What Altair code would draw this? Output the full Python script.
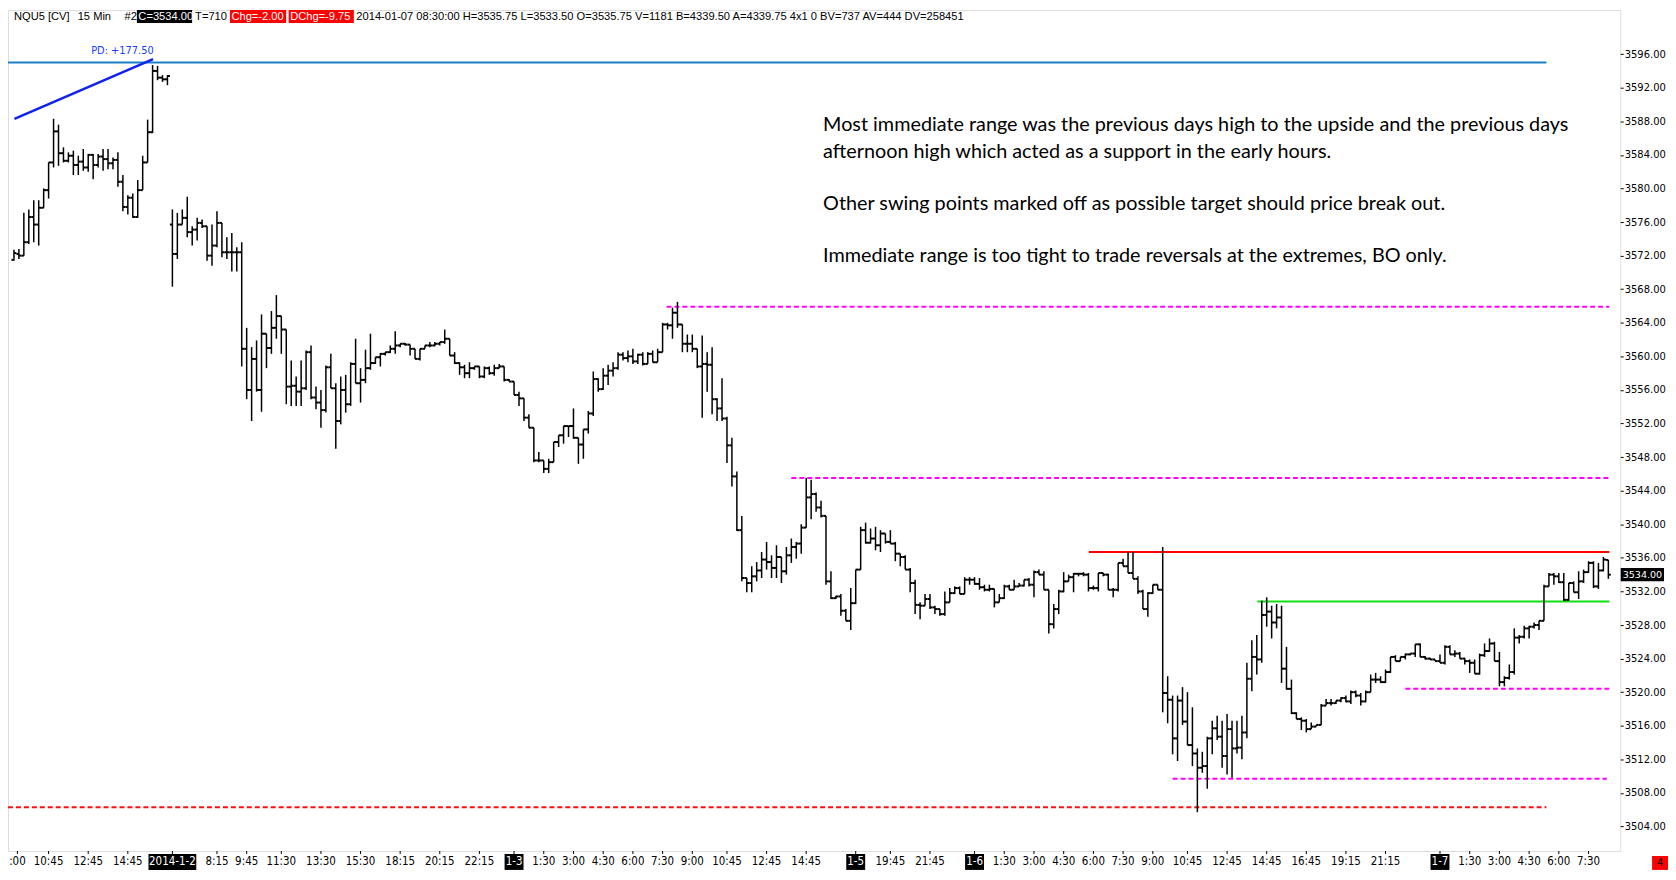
import altair as alt
import pandas as pd

# ---------------- data ----------------
opens = [
    3571.5, 3572.2, 3572.0, 3573.6, 3576.6, 3575.7, 3577.7, 3579.8, 3583.1, 3586.8,
    3584.2, 3583.3, 3583.9, 3582.8, 3583.2, 3582.5, 3584.0, 3582.8, 3583.8, 3583.5,
    3583.0, 3583.4, 3580.8, 3577.8, 3578.9, 3576.6, 3579.8, 3583.1, 3586.7, 3594.0,
    3593.2, 3593.0, 3575.7, 3572.2, 3575.7, 3576.5, 3574.8, 3575.1, 3575.9, 3575.5,
    3572.0, 3573.2, 3575.9, 3572.4, 3572.4, 3572.4, 3572.4, 3560.9, 3556.0, 3559.7,
    3556.0, 3562.7, 3561.0, 3563.4, 3564.8, 3563.2, 3556.4, 3556.5, 3555.8, 3556.2,
    3560.5, 3555.1, 3554.5, 3553.6, 3558.7, 3556.2, 3552.3, 3556.0, 3554.3, 3559.1,
    3556.8, 3557.2, 3558.6, 3559.2, 3559.9, 3560.3, 3560.5, 3560.9, 3561.3, 3561.5,
    3561.4, 3560.9, 3559.7, 3560.9, 3561.3, 3561.3, 3561.5, 3561.7, 3562.1, 3560.1,
    3559.2, 3558.7, 3558.0, 3558.6, 3558.8, 3557.6, 3558.6, 3558.0, 3558.6, 3558.8,
    3557.2, 3557.0, 3555.4, 3555.0, 3552.7, 3551.5, 3547.6, 3547.6, 3546.6, 3547.4,
    3549.8, 3550.6, 3551.7, 3551.7, 3550.3, 3549.5, 3551.3, 3553.2, 3557.3, 3556.1,
    3557.7, 3558.3, 3558.6, 3560.2, 3559.8, 3560.0, 3559.4, 3560.2, 3559.1, 3560.3,
    3559.3, 3560.5, 3563.8, 3563.7, 3565.2, 3563.8, 3561.5, 3561.5, 3560.9, 3558.8,
    3559.1, 3559.0, 3554.9, 3553.8, 3552.6, 3549.4, 3545.7, 3539.3, 3533.6, 3533.0,
    3533.8, 3534.5, 3535.8, 3535.5, 3534.8, 3536.1, 3534.4, 3536.3, 3537.3, 3537.7,
    3539.6, 3543.2, 3543.6, 3542.0, 3541.0, 3533.2, 3531.2, 3531.4, 3529.7, 3528.5,
    3530.6, 3534.6, 3539.3, 3537.8, 3538.3, 3537.5, 3538.9, 3537.9, 3537.7, 3536.5,
    3536.1, 3534.6, 3533.0, 3530.4, 3530.3, 3531.1, 3530.1, 3529.9, 3529.3, 3530.7,
    3531.8, 3532.4, 3531.7, 3533.4, 3533.4, 3532.9, 3532.5, 3532.2, 3532.3, 3530.7,
    3531.2, 3532.6, 3532.2, 3532.6, 3532.7, 3533.4, 3532.8, 3534.3, 3534.0, 3532.2,
    3528.1, 3529.9, 3532.0, 3533.2, 3533.7, 3534.1, 3534.1, 3534.0, 3532.4, 3532.4,
    3534.2, 3534.0, 3532.2, 3532.2, 3535.4, 3535.0, 3534.2, 3533.5, 3532.0, 3529.9,
    3531.8, 3532.8, 3532.2, 3519.9, 3519.1, 3514.5, 3519.0, 3516.5, 3513.7, 3512.7,
    3511.0, 3511.2, 3514.5, 3515.7, 3514.7, 3512.4, 3515.6, 3513.3, 3513.4, 3515.2,
    3521.6, 3524.2, 3523.9, 3529.2, 3529.6, 3528.3, 3528.9, 3522.8, 3520.4, 3517.5,
    3516.8, 3516.6, 3515.6, 3515.9, 3516.1, 3518.4, 3518.7, 3518.7, 3519.0, 3519.3,
    3518.9, 3520.0, 3519.6, 3518.9, 3520.0, 3521.5, 3521.5, 3521.2, 3522.4, 3524.2,
    3523.7, 3524.2, 3524.5, 3524.6, 3525.7, 3524.2, 3524.0, 3523.9, 3523.7, 3523.5,
    3525.4, 3524.5, 3524.6, 3524.0, 3523.7, 3523.5, 3522.2, 3524.4, 3524.9, 3525.8,
    3523.7, 3521.2, 3521.7, 3522.4, 3526.5, 3526.6, 3527.6, 3527.8, 3528.0, 3528.5,
    3532.6, 3534.0, 3533.8, 3533.1, 3531.0, 3533.0, 3531.9, 3533.2, 3534.3, 3535.4,
    3532.6, 3534.5, 3535.75,
]
highs = [
    3572.7, 3572.8, 3577.1, 3577.5, 3578.6, 3578.6, 3580.0, 3583.1, 3588.3, 3587.6,
    3584.9, 3584.3, 3584.5, 3583.9, 3584.7, 3584.1, 3584.1, 3584.1, 3584.7, 3584.7,
    3583.7, 3584.3, 3581.6, 3579.2, 3579.4, 3581.0, 3583.9, 3588.2, 3594.7, 3594.6,
    3593.5, 3593.5, 3577.5, 3577.1, 3577.5, 3579.0, 3575.5, 3576.5, 3576.3, 3575.5,
    3575.7, 3577.3, 3575.9, 3574.2, 3574.7, 3573.0, 3573.6, 3563.4, 3561.1, 3561.9,
    3565.0, 3562.7, 3565.4, 3567.3, 3564.8, 3563.2, 3559.5, 3557.6, 3559.5, 3560.7,
    3561.3, 3556.4, 3556.0, 3558.9, 3560.3, 3556.8, 3557.6, 3557.8, 3559.3, 3562.1,
    3558.6, 3560.8, 3562.7, 3559.9, 3560.4, 3560.5, 3561.3, 3563.0, 3561.5, 3561.6,
    3561.4, 3560.9, 3560.9, 3561.3, 3561.7, 3561.7, 3561.7, 3563.2, 3562.1, 3560.5,
    3559.3, 3559.0, 3559.3, 3558.8, 3558.8, 3558.8, 3558.8, 3559.0, 3559.1, 3558.8,
    3557.3, 3557.0, 3555.8, 3555.0, 3553.1, 3551.5, 3548.6, 3547.6, 3547.8, 3549.8,
    3550.6, 3551.7, 3551.7, 3553.8, 3550.3, 3551.3, 3553.5, 3558.2, 3557.4, 3558.6,
    3559.0, 3559.3, 3560.5, 3560.5, 3560.7, 3560.9, 3560.3, 3560.5, 3560.5, 3560.7,
    3560.9, 3564.0, 3564.0, 3565.8, 3566.5, 3563.8, 3562.6, 3562.6, 3560.9, 3562.5,
    3560.5, 3561.1, 3555.0, 3557.4, 3552.8, 3550.3, 3546.3, 3541.0, 3533.6, 3535.0,
    3535.5, 3536.7, 3537.9, 3536.3, 3537.5, 3536.1, 3537.3, 3538.3, 3537.9, 3540.0,
    3545.5, 3545.3, 3543.8, 3542.8, 3541.0, 3534.4, 3531.5, 3531.7, 3529.9, 3532.4,
    3534.6, 3539.7, 3540.2, 3539.5, 3539.7, 3539.3, 3538.9, 3539.3, 3537.9, 3536.5,
    3536.3, 3534.8, 3533.4, 3530.7, 3531.7, 3531.7, 3530.3, 3529.9, 3532.0, 3532.4,
    3532.6, 3532.6, 3533.7, 3533.7, 3533.7, 3533.6, 3532.8, 3532.8, 3532.3, 3531.7,
    3532.8, 3532.8, 3533.4, 3533.0, 3533.4, 3533.6, 3534.5, 3534.6, 3534.4, 3532.2,
    3530.5, 3532.2, 3534.3, 3534.0, 3534.2, 3534.2, 3534.3, 3534.2, 3532.7, 3534.2,
    3534.2, 3534.1, 3532.4, 3535.4, 3535.9, 3536.7, 3536.7, 3533.8, 3532.2, 3531.9,
    3532.8, 3532.8, 3537.3, 3521.9, 3519.6, 3519.6, 3520.6, 3520.0, 3518.2, 3513.3,
    3512.9, 3514.7, 3516.6, 3517.2, 3516.6, 3517.4, 3516.6, 3516.6, 3517.2, 3523.5,
    3526.2, 3526.8, 3530.9, 3531.3, 3530.3, 3530.5, 3530.3, 3525.4, 3521.5, 3517.6,
    3517.0, 3516.8, 3516.4, 3516.1, 3518.6, 3519.2, 3519.2, 3519.0, 3519.4, 3519.6,
    3520.2, 3520.2, 3519.9, 3520.2, 3522.1, 3522.3, 3521.9, 3522.7, 3524.2, 3524.4,
    3524.2, 3524.6, 3524.6, 3525.7, 3525.8, 3524.3, 3524.1, 3523.9, 3524.5, 3525.6,
    3525.6, 3525.0, 3524.8, 3524.1, 3523.9, 3523.9, 3524.6, 3525.8, 3526.4, 3526.0,
    3524.8, 3521.9, 3523.3, 3527.6, 3526.8, 3527.9, 3527.9, 3528.3, 3528.5, 3532.8,
    3534.2, 3534.2, 3534.2, 3534.2, 3533.0, 3533.2, 3534.4, 3534.6, 3535.6, 3535.6,
    3535.4, 3536.1, 3535.75,
]
lows = [
    3571.4, 3571.6, 3572.0, 3573.4, 3573.6, 3573.2, 3577.7, 3578.8, 3582.5, 3582.7,
    3583.1, 3583.1, 3581.6, 3581.6, 3582.1, 3582.0, 3581.1, 3582.5, 3582.1, 3582.3,
    3582.3, 3580.2, 3577.3, 3576.9, 3576.5, 3576.5, 3579.8, 3583.1, 3586.6, 3592.9,
    3592.7, 3592.3, 3568.3, 3571.6, 3575.7, 3574.2, 3573.2, 3573.8, 3575.3, 3571.4,
    3570.8, 3573.0, 3571.8, 3571.6, 3570.1, 3570.1, 3558.8, 3554.9, 3552.3, 3555.8,
    3553.4, 3558.6, 3560.3, 3562.1, 3560.3, 3554.3, 3554.1, 3554.1, 3554.1, 3556.0,
    3554.9, 3553.7, 3551.5, 3553.3, 3556.2, 3549.0, 3551.9, 3553.3, 3554.1, 3556.8,
    3554.5, 3556.8, 3558.4, 3559.1, 3558.8, 3560.1, 3560.4, 3560.3, 3561.1, 3561.3,
    3560.1, 3559.7, 3559.5, 3560.9, 3561.1, 3561.2, 3561.3, 3561.5, 3560.1, 3559.1,
    3557.8, 3557.4, 3557.4, 3558.4, 3557.4, 3557.4, 3557.8, 3557.7, 3558.6, 3557.0,
    3557.0, 3555.4, 3554.1, 3552.3, 3551.5, 3547.4, 3547.4, 3546.1, 3546.1, 3547.4,
    3549.2, 3549.6, 3550.4, 3550.2, 3547.2, 3547.8, 3550.8, 3552.9, 3555.8, 3556.0,
    3556.6, 3557.6, 3558.4, 3559.5, 3559.3, 3559.1, 3559.1, 3558.9, 3559.1, 3559.3,
    3559.3, 3560.5, 3563.2, 3562.1, 3563.4, 3560.5, 3560.5, 3560.5, 3558.6, 3552.7,
    3555.8, 3553.1, 3552.3, 3552.3, 3547.3, 3544.5, 3539.2, 3533.2, 3531.9, 3531.9,
    3533.2, 3533.6, 3534.6, 3533.6, 3533.6, 3533.0, 3534.0, 3535.4, 3535.9, 3536.5,
    3539.6, 3540.6, 3541.5, 3540.8, 3532.8, 3531.1, 3531.1, 3529.1, 3528.5, 3527.4,
    3530.5, 3534.6, 3537.7, 3537.7, 3536.9, 3536.7, 3537.7, 3537.7, 3535.6, 3535.0,
    3534.6, 3531.9, 3529.3, 3528.7, 3530.3, 3529.9, 3529.3, 3529.1, 3529.1, 3530.7,
    3531.7, 3531.7, 3531.7, 3532.8, 3532.8, 3532.2, 3532.0, 3532.0, 3530.1, 3530.7,
    3531.1, 3532.2, 3532.2, 3532.6, 3532.6, 3532.6, 3531.3, 3534.0, 3532.2, 3527.0,
    3527.6, 3529.3, 3531.9, 3533.2, 3531.9, 3533.8, 3533.8, 3532.0, 3532.2, 3532.0,
    3533.8, 3532.2, 3531.3, 3532.0, 3535.0, 3534.2, 3533.5, 3531.7, 3529.9, 3529.0,
    3531.7, 3532.2, 3517.6, 3516.3, 3512.6, 3511.8, 3516.1, 3513.7, 3511.2, 3505.7,
    3510.4, 3508.5, 3512.6, 3514.3, 3511.0, 3510.2, 3509.8, 3512.7, 3512.0, 3514.5,
    3520.1, 3522.1, 3523.5, 3527.8, 3526.4, 3527.6, 3521.1, 3520.3, 3517.4, 3516.8,
    3515.5, 3515.2, 3515.6, 3515.9, 3516.1, 3518.4, 3518.4, 3518.6, 3518.8, 3518.8,
    3518.6, 3519.4, 3518.4, 3518.8, 3520.0, 3521.1, 3521.1, 3521.1, 3522.3, 3523.7,
    3523.7, 3523.9, 3524.4, 3524.2, 3524.2, 3523.9, 3523.9, 3523.7, 3523.5, 3523.3,
    3524.5, 3524.2, 3524.0, 3523.3, 3522.3, 3522.2, 3522.1, 3524.2, 3524.8, 3523.7,
    3520.7, 3520.7, 3521.5, 3522.1, 3525.8, 3526.4, 3526.4, 3527.6, 3527.4, 3528.5,
    3532.6, 3532.8, 3533.0, 3530.9, 3530.9, 3531.9, 3531.1, 3533.0, 3534.2, 3532.4,
    3532.3, 3534.4, 3533.5,
]
closes = [
    3572.3, 3572.0, 3573.6, 3576.6, 3575.7, 3577.7, 3579.8, 3583.1, 3586.8, 3584.2,
    3583.3, 3583.9, 3582.8, 3583.2, 3582.5, 3584.0, 3582.8, 3583.8, 3583.5, 3583.0,
    3583.4, 3580.8, 3577.8, 3578.9, 3576.6, 3579.8, 3583.1, 3586.7, 3594.0, 3593.2,
    3593.0, 3593.4, 3572.2, 3575.7, 3576.5, 3574.8, 3575.1, 3575.9, 3575.5, 3572.0,
    3573.2, 3575.9, 3572.4, 3572.4, 3572.4, 3572.4, 3560.9, 3556.0, 3559.7, 3556.0,
    3562.7, 3561.0, 3563.4, 3564.8, 3563.2, 3556.4, 3556.5, 3555.8, 3556.2, 3560.5,
    3555.1, 3554.5, 3553.6, 3558.7, 3556.2, 3552.3, 3556.0, 3554.3, 3559.1, 3556.8,
    3557.2, 3558.6, 3559.2, 3559.9, 3560.3, 3560.5, 3560.9, 3561.3, 3561.5, 3561.4,
    3560.9, 3559.7, 3560.9, 3561.3, 3561.3, 3561.5, 3561.7, 3562.1, 3560.1, 3559.2,
    3558.7, 3558.0, 3558.6, 3558.8, 3557.6, 3558.6, 3558.0, 3558.6, 3558.8, 3557.2,
    3557.0, 3555.4, 3555.0, 3552.7, 3551.5, 3547.6, 3547.6, 3546.6, 3547.4, 3549.8,
    3550.6, 3551.7, 3551.7, 3550.3, 3549.5, 3551.3, 3553.2, 3557.3, 3556.1, 3557.7,
    3558.3, 3558.6, 3560.2, 3559.8, 3560.0, 3559.4, 3560.2, 3559.1, 3560.3, 3559.3,
    3560.5, 3563.8, 3563.7, 3565.2, 3563.8, 3561.5, 3561.5, 3560.9, 3558.8, 3559.1,
    3559.0, 3554.9, 3553.8, 3552.6, 3549.4, 3545.7, 3539.3, 3533.6, 3533.0, 3533.8,
    3534.5, 3535.8, 3535.5, 3534.8, 3536.1, 3534.4, 3536.3, 3537.3, 3537.7, 3539.6,
    3543.2, 3543.6, 3542.0, 3541.0, 3533.2, 3531.2, 3531.4, 3529.7, 3528.5, 3530.6,
    3534.6, 3539.3, 3537.8, 3538.3, 3537.5, 3538.9, 3537.9, 3537.7, 3536.5, 3536.1,
    3534.6, 3533.0, 3530.4, 3530.3, 3531.1, 3530.1, 3529.9, 3529.3, 3530.7, 3531.8,
    3532.4, 3531.7, 3533.4, 3533.4, 3532.9, 3532.5, 3532.2, 3532.3, 3530.7, 3531.2,
    3532.6, 3532.2, 3532.6, 3532.7, 3533.4, 3532.8, 3534.3, 3534.0, 3532.2, 3528.1,
    3529.9, 3532.0, 3533.2, 3533.7, 3534.1, 3534.1, 3534.0, 3532.4, 3532.4, 3534.2,
    3534.0, 3532.2, 3532.2, 3535.4, 3535.0, 3534.2, 3533.5, 3532.0, 3529.9, 3531.8,
    3532.8, 3532.2, 3519.9, 3519.1, 3514.5, 3519.0, 3516.5, 3513.7, 3512.7, 3511.0,
    3511.2, 3514.5, 3515.7, 3514.7, 3512.4, 3515.6, 3513.3, 3513.4, 3515.2, 3521.6,
    3524.2, 3523.9, 3529.2, 3529.6, 3528.3, 3528.9, 3522.8, 3520.4, 3517.5, 3516.8,
    3516.6, 3515.6, 3515.9, 3516.1, 3518.4, 3518.7, 3518.7, 3519.0, 3519.3, 3518.9,
    3520.0, 3519.6, 3518.9, 3520.0, 3521.5, 3521.5, 3521.2, 3522.4, 3524.2, 3523.7,
    3524.2, 3524.5, 3524.6, 3525.7, 3524.2, 3524.0, 3523.9, 3523.7, 3523.5, 3525.4,
    3524.5, 3524.6, 3524.0, 3523.7, 3523.5, 3522.2, 3524.4, 3524.9, 3525.8, 3523.7,
    3521.2, 3521.7, 3522.4, 3526.5, 3526.6, 3527.6, 3527.8, 3528.0, 3528.5, 3532.6,
    3534.0, 3533.8, 3533.1, 3531.0, 3533.0, 3531.9, 3533.2, 3534.3, 3535.4, 3532.6,
    3534.5, 3535.8, 3534.0,
]

# time-axis labels (bar index -> text); the first one is cut at the left edge in the original
time_ticks = [0.7, 7, 15, 23, 41, 47, 54, 62, 70, 78, 86, 94,
              107, 113, 119, 125, 131, 137, 144, 152, 160, 177, 185,
              200, 206, 212, 218, 224, 230, 237, 245, 253, 261, 269, 277,
              294, 300, 306, 312, 318]
time_labels = [":00", "10:45", "12:45", "14:45", "8:15", "9:45", "11:30", "13:30", "15:30", "18:15", "20:15", "22:15",
               "1:30", "3:00", "4:30", "6:00", "7:30", "9:00", "10:45", "12:45", "14:45", "19:45", "21:45",
               "1:30", "3:00", "4:30", "6:00", "7:30", "9:00", "10:45", "12:45", "14:45", "16:45", "19:15", "21:15",
               "1:30", "3:00", "4:30", "6:00", "7:30"]
session_ticks = [32, 101, 170, 194, 288]
session_labels = ["2014-1-2", "1-3", "1-5", "1-6", "1-7"]

price_ticks = [3504, 3508, 3512, 3516, 3520, 3524, 3528, 3532, 3536, 3540, 3544, 3548,
               3552, 3556, 3560, 3564, 3568, 3572, 3576, 3580, 3584, 3588, 3592, 3596]

# drawn levels (price, from bar, to bar)
prev_high_level = [3595.0]
prev_high_from = [-1.2]
prev_high_to = [309.5]
low_level = [3506.3]
low_from = [-1.2]
low_to = [309.5]
swing_levels = [3565.9, 3545.5, 3520.4, 3509.7]
swing_from = [131.8, 157.0, 281.0, 234.0]
swing_to = [322.2, 322.2, 322.2, 321.7]
range_high = [3536.7]
range_high_from = [217.1]
range_low = [3530.8]
range_low_from = [251.1]
range_to = [322.2]
pd_x = [0.1]
pd_x2 = [28.1]
pd_y = [3588.3]
pd_y2 = [3595.4]
pd_text = "PD: +177.50"
last_price = [3534.00]

header_plain = ["NQU5 [CV]", "15 Min", "#2", "T=710",
                "2014-01-07 08:30:00 H=3535.75 L=3533.50 O=3535.75 V=1181 B=4339.50 A=4339.75 4x1 0 BV=737 AV=444 DV=258451"]
header_boxed = ["C=3534.00", "Chg=-2.00", "DChg=-9.75"]

note_paragraphs = [
    "Most immediate range was the previous days high to the upside and the previous days\n"
    "afternoon high which acted as a support in the early hours.",
    "Other swing points marked off as possible target should price break out.",
    "Immediate range is too tight to trade reversals at the extremes, BO only.",
]

# ---------------- layout / style ----------------
W, H = 1620, 845
NARROW = "Liberation Sans Narrow, Arial Narrow, DejaVu Sans Condensed, sans-serif"
SANS = "Liberation Sans, Arial, sans-serif"
AXF = "DejaVu Sans, Verdana, sans-serif"

xs = alt.Scale(domain=[-1.2, 324.4], nice=False, zero=False)
ys = alt.Scale(domain=[3501.08, 3601.25], nice=False, zero=False)
yax = alt.Axis(orient="right", values=price_ticks, format=".2f", title=None, grid=False,
               domain=False, tickSize=3, tickColor="black", labelColor="black",
               labelFont=AXF, labelFontSize=10, labelPadding=1, labelOverlap=False)


def X(f):
    return alt.X(f, type="quantitative", scale=xs, axis=None)


def Y(f):
    return alt.Y(f, type="quantitative", scale=ys, axis=yax)


df = pd.DataFrame({"i": list(range(len(closes))), "o": opens, "h": highs, "l": lows, "c": closes})
ohlc = alt.Chart(df)

hl = ohlc.mark_rule(color="black", strokeWidth=1.5).encode(x=X("i"), y=Y("l"), y2="h")
op = ohlc.transform_calculate(xl="datum.i - 0.5").mark_rule(color="black", strokeWidth=2).encode(
    x=X("xl"), x2="i", y=Y("o"))
cl = ohlc.transform_calculate(xr="datum.i + 0.5").mark_rule(color="black", strokeWidth=2).encode(
    x=X("i"), x2="xr", y=Y("c"))


def hline(levels, starts, ends, color, dash=None, width=2):
    d = pd.DataFrame({"p": levels, "a": starts, "b": ends})
    kw = dict(color=color, strokeWidth=width)
    if dash:
        kw["strokeDash"] = dash
    return alt.Chart(d).mark_rule(**kw).encode(x=X("a"), x2="b", y=Y("p"))


lines = [
    hline(prev_high_level, prev_high_from, prev_high_to, "#1a80c4"),
    hline(low_level, low_from, low_to, "#ff1010", [5, 3]),
    hline(swing_levels, swing_from, swing_to, "#ff00ff", [5, 3]),
    hline(range_high, range_high_from, range_to, "#ff0000"),
    hline(range_low, range_low_from, range_to, "#10e010"),
]
diag = alt.Chart(pd.DataFrame({"x": pd_x, "x2": pd_x2, "y": pd_y, "y2": pd_y2})).mark_rule(
    color="#1020f0", strokeWidth=2.5).encode(x=X("x"), x2="x2", y=Y("y"), y2="y2")


def text_at(s, x, y, size=11, color="black", font=SANS, align="left", baseline="middle", **kw):
    return alt.Chart(pd.DataFrame({"t": [s]})).mark_text(
        align=align, baseline=baseline, font=font, fontSize=size, color=color, **kw
    ).encode(text="t:N", x=alt.value(x), y=alt.value(y))


def box(x0, x1, y0, y1, color):
    return alt.Chart(pd.DataFrame({"t": [0]})).mark_rect(color=color).encode(
        x=alt.value(x0), x2=alt.value(x1), y=alt.value(y0), y2=alt.value(y1))


pd_label = text_at(pd_text, 115, 41, size=11, color="#2040ff", font=NARROW, align="center")

# header
plain_x = [6, 70, 117, 188, 350]
header = [text_at(t, x, 6.5, size=11.2) for t, x in zip(header_plain, plain_x)]
boxed_spans = [(129.5, 185), (223, 279.5), (282, 347.5)]
boxed_cols = ["black", "#ff0000", "#ff0000"]
for t, (a, b), col in zip(header_boxed, boxed_spans, boxed_cols):
    header.append(box(a, b, 0, 13, col))
    header.append(text_at(t, a + 1.5, 6.5, size=11.2, color="white"))

# notes: paragraphs separated by one empty line
LH = 26.3
note_y = [122, 122 + 3 * LH, 122 + 5 * LH]
notes = [
    text_at(t, 819, y, size=19.9, font="Lato", baseline="alphabetic", lineBreak="\n", lineHeight=LH)
    for t, y in zip(note_paragraphs, note_y)
]

# x-axis labels
tdf = pd.DataFrame({"i": time_ticks, "t": time_labels})
sdf = pd.DataFrame({"i": session_ticks, "t": session_labels})
alltick = pd.DataFrame({"i": time_ticks + session_ticks})
xticks = alt.Chart(alltick).mark_rule(color="black").encode(x=X("i"), y=alt.value(845), y2=alt.value(848))
tlab = alt.Chart(tdf).mark_text(font=NARROW, fontSize=11.5, color="black", baseline="middle").encode(
    x=X("i"), y=alt.value(856), text="t:N")
sbox_w = alt.Chart(sdf).transform_filter("length(datum.t) > 4").mark_rect(
    color="black", xOffset=-24, x2Offset=24).encode(x=X("i"), x2="i", y=alt.value(848), y2=alt.value(864))
sbox_n = alt.Chart(sdf).transform_filter("length(datum.t) <= 4").mark_rect(
    color="black", xOffset=-9.5, x2Offset=9.5).encode(x=X("i"), x2="i", y=alt.value(848), y2=alt.value(864))
slab = alt.Chart(sdf).mark_text(font=NARROW, fontSize=11.5, color="white", baseline="middle").encode(
    x=X("i"), y=alt.value(856), text="t:N")

# last price marker on the price axis
lp = alt.Chart(pd.DataFrame({"p": last_price}))
lp_box = lp.transform_calculate(top="datum.p + 0.78", bot="datum.p - 0.78").mark_rect(color="black").encode(
    x=alt.value(1620.5), x2=alt.value(1664), y=Y("top"), y2="bot")
lp_txt = lp.mark_text(align="left", baseline="middle", font=AXF, fontSize=9.6, color="white").encode(
    x=alt.value(1622.5), y=Y("p"), text=alt.Text("p:Q", format=".2f"))

corner = [box(1652, 1668, 850, 864, "#ff0000"), text_at("4", 1660, 857.5, size=11, align="center")]

chart = alt.layer(
    *lines, diag, hl, op, cl, pd_label, *notes, *header,
    xticks, sbox_w, sbox_n, tlab, slab, lp_box, lp_txt, *corner
).properties(
    width=W, height=H,
    autosize=alt.AutoSizeParams(type="none"),
    padding={"left": 0, "top": 0, "right": 48, "bottom": 19},
).configure_view(stroke="black", strokeWidth=1).configure(background="white")

chart.save("out.html", embed_options={"renderer": "svg", "actions": False})
